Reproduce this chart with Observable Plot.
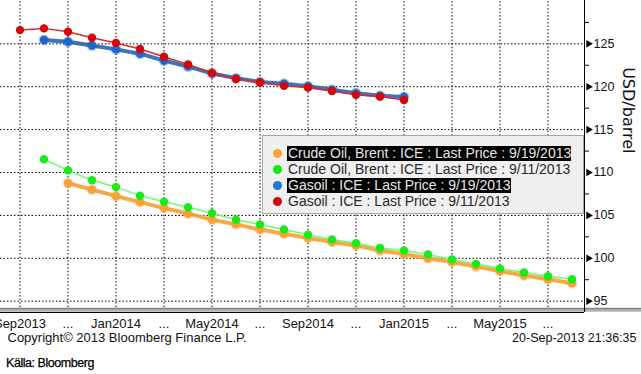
<!DOCTYPE html>
<html><head><meta charset="utf-8">
<script src="https://cdn.jsdelivr.net/npm/d3@7"></script>
<script src="https://cdn.jsdelivr.net/npm/@observablehq/plot@0.6"></script>
<style>
body{margin:0;background:#fff;}
#wrap{position:relative;width:641px;height:374px;font-family:"Liberation Sans",Arial,sans-serif;overflow:hidden;}
#legend{position:absolute;left:262px;top:135px;width:322px;height:79px;background:#f0f0f0;border:1px solid #a8a8a8;box-sizing:border-box;}
.lrow{position:absolute;left:0;height:14px;}
.ldot{position:absolute;left:10px;top:3px;width:9px;height:9px;border-radius:50%;}
.lbl{position:absolute;left:24px;top:0;white-space:nowrap;font-size:14px;line-height:14px;color:#2a2a2a;padding:0 0 1px 1px;}
.hl{background:#000;color:#e6e6e6;}
#source{position:absolute;left:6px;top:356px;font-size:12.5px;line-height:14px;letter-spacing:-0.45px;color:#000;font-family:"Liberation Sans",Arial,sans-serif;-webkit-text-stroke:0.25px #000;}
</style>
</head><body>
<div id="wrap"><div id="chart"></div><div id="legend"></div><div id="source"></div></div>
<script>
// ---- data ----
const months = ["Sep2013","Oct2013","Nov2013","Dec2013","Jan2014","Feb2014","Mar2014","Apr2014","May2014","Jun2014","Jul2014","Aug2014","Sep2014","Oct2014","Nov2014","Dec2014","Jan2015","Feb2015","Mar2015","Apr2015","May2015","Jun2015","Jul2015","Aug2015"];
const xTickLabels = ["Sep2013","...","Jan2014","...","May2014","...","Sep2014","...","Jan2015","...","May2015","..."];
const yTicks = [95,100,105,110,115,120,125];
const yMinorTicks = [97.5,102.5,107.5,112.5,117.5,122.5,127.5];

const seriesNames = ["Crude Oil, Brent : ICE : Last Price : 9/19/2013","Crude Oil, Brent : ICE : Last Price : 9/11/2013","Gasoil : ICE : Last Price : 9/19/2013","Gasoil : ICE : Last Price : 9/11/2013"];
const seriesStart = ["Nov2013","Oct2013","Oct2013","Sep2013"];
const brent0919 = [108.75,108.0,107.25,106.55,105.85,105.2,104.5,103.95,103.35,102.85,102.35,101.9,101.5,100.9,100.5,100.0,99.55,99.05,98.5,98.0,97.55,97.1];
const brent0911 = [111.55,110.25,109.1,108.3,107.3,106.6,105.95,105.25,104.5,103.95,103.35,102.75,102.2,101.75,101.2,100.9,100.45,99.85,99.35,98.8,98.35,97.9,97.55];
const gasoil0919 = [125.45,125.25,124.8,124.35,123.85,123.05,122.35,121.55,121.0,120.55,120.35,120.05,119.65,119.25,118.95,118.8];
const gasoil0911 = [126.6,126.8,126.4,125.7,125.1,124.4,123.5,122.6,121.6,120.9,120.5,120.1,119.9,119.5,119.05,118.85,118.45];
const copyrightText = "Copyright\u00a9 2013 Bloomberg Finance L.P.";
const stampText = "20-Sep-2013 21:36:35";
const sourceText = "K\u00e4lla: Bloomberg";
const yLabel = "USD/barrel";

// ---- styles ----
const lineColors = ["#f5a033","#6cff6c","#2a64b4","#e02828"];
const dotColors = ["#f7a236","#19ea19","#1f66c6","#d40808"];
const lineWidths = [4,1.5,4,1.5];
const legendDot = ["#f9a53a","#12e812","#2276d6","#d10a0a"];
const legendHL = [true,false,true,false];

const valuesList = [brent0919, brent0911, gasoil0919, gasoil0911];
const series = valuesList.map((vals, s) => {
  const start = months.indexOf(seriesStart[s]);
  return vals.map((v, k) => ({i: start + k, v, s}));
});

const xDomain = [-0.8125, 23.521];
const yDomain = [93.68, 130.05];
const xTicks = xTickLabels.map((_, k) => 2 * k);

const dash = {stroke: "#000", strokeOpacity: 1, strokeWidth: 1, strokeDasharray: "1.5,2"};
const marks = [
  Plot.ruleY([94.12], {x1: xDomain[0], x2: 25.9, stroke: "#858585", strokeWidth: 2}),
  Plot.ruleY([93.88], {x1: xDomain[0], x2: 25.9, stroke: "#b4b4b4", strokeWidth: 2}),
  Plot.ruleY([yDomain[0]], {x1: xDomain[0], x2: xDomain[1], stroke: "#000", strokeWidth: 1}),
  Plot.ruleX([xDomain[1]], {y1: yDomain[0], y2: yDomain[1], stroke: "#000", strokeWidth: 1}),
  Plot.ruleY(yMinorTicks, {x1: xDomain[1], x2: xDomain[1] + 5 / 24, stroke: "#000"}),
  Plot.dot(yTicks, {x: () => xDomain[1], y: d => d, symbol: "triangle2", rotate: 90, r: 3.6, fill: "#000", dx: 4}),
  Plot.axisY(yTicks, {anchor: "right", tickSize: 0, tickPadding: 9, fontSize: 12.5, fill: "#111", label: null}),
  Plot.axisX(xTicks, {anchor: "bottom", tickSize: 0, tickPadding: 6, fontSize: 13, fill: "#111", tickFormat: d => xTickLabels[d / 2], label: null}),
  Plot.text([yLabel], {frameAnchor: "right", dx: 44, dy: -3, rotate: 90, fontSize: 16, fontFamily: "DejaVu Sans", fill: "#111"}),
  Plot.text([copyrightText], {frameAnchor: "bottom-left", dx: 7, dy: 29, textAnchor: "start", fontSize: 13, fill: "#111"}),
  Plot.text([stampText], {frameAnchor: "bottom-right", dx: 52, dy: 29, textAnchor: "end", fontSize: 12.5, fill: "#111"}),
  // grid (dotted)
  Plot.ruleX(xTicks, {x: d => d, y1: 94.25, y2: yDomain[1], ...dash}),
  Plot.ruleY(yTicks, {y: d => d, x1: xDomain[0], x2: xDomain[1], ...dash})
];
// draw 9/19 first, then 9/11 on top
for (const s of [0, 2, 1, 3]) {
  marks.push(Plot.line(series[s], {x: "i", y: "v", stroke: lineColors[s], strokeWidth: lineWidths[s], strokeOpacity: s % 2 === 0 ? 0.9 : 1}));
  if (s % 2 === 0) marks.push(Plot.dot(series[s], {x: "i", y: "v", r: 5.5, fill: dotColors[s], fillOpacity: 0.35}));
  marks.push(Plot.dot(series[s], {x: "i", y: "v", r: 4.2, fill: dotColors[s]}));
}

const chart = Plot.plot({
  width: 641, height: 350,
  marginLeft: 0, marginRight: 57, marginTop: 0, marginBottom: 38,
  x: {type: "linear", domain: xDomain, axis: null},
  y: {type: "linear", domain: yDomain, axis: null},
  style: {fontFamily: "'Liberation Sans', Arial, sans-serif", background: "#fff", overflow: "visible"},
  marks
});
document.getElementById("chart").appendChild(chart);

// legend
const legend = document.getElementById("legend");
seriesNames.forEach((name, s) => {
  const row = document.createElement("div");
  row.className = "lrow";
  row.style.top = (10 + 16 * s) + "px";
  row.style.width = "100%";
  const dot = document.createElement("div");
  dot.className = "ldot";
  dot.style.background = legendDot[s];
  const lbl = document.createElement("span");
  lbl.className = "lbl" + (legendHL[s] ? " hl" : "");
  lbl.textContent = name;
  row.appendChild(dot); row.appendChild(lbl);
  legend.appendChild(row);
});
document.getElementById("source").textContent = sourceText;
</script>
</body></html>
